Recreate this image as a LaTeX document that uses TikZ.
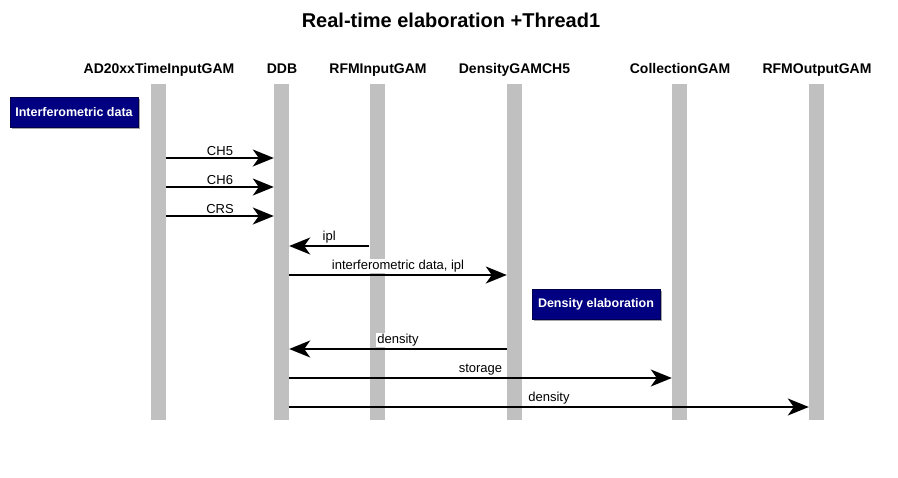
\documentclass[tikz,border=0pt]{standalone}
\usepackage{fontspec}
\setmainfont{Liberation Sans}
\usetikzlibrary{arrows.meta,shadows}
\definecolor{bargray}{HTML}{C0C0C0}
\definecolor{navy}{HTML}{000080}
\tikzset{
  lifeline/.style={fill=bargray, draw=none, minimum width=15pt, minimum height=336pt, inner sep=0pt},
  header/.style={font=\fontsize{14}{16}\selectfont\bfseries, inner sep=0pt, anchor=base},
  msg/.style={line width=1.6pt, -{Stealth[length=21pt,width=17pt,inset=6pt]}},
  msglabel/.style={midway, above=0.8pt, fill=white, inner sep=1.2pt, font=\fontsize{13}{15}\selectfont},
  notebox/.style={fill=navy, draw=navy!60!black, text=white, font=\fontsize{12.5}{14}\selectfont\bfseries,
    minimum width=128pt, minimum height=30pt, inner sep=0pt,
    drop shadow={shadow xshift=2pt, shadow yshift=-2pt, fill=gray!70, opacity=1}}
}
\begin{document}
\begin{tikzpicture}[x=1pt,y=-1pt]
\useasboundingbox (0,0) rectangle (898,478);
% title
\node[font=\fontsize{20}{24}\selectfont\bfseries, anchor=base] (title) at (451,28) {Real-time elaboration +Thread1};
% headers
\node[header] (hA) at (159,73.5) {AD20xxTimeInputGAM};
\node[header] (hB) at (282,73.5) {DDB};
\node[header] (hC) at (378,73.5) {RFMInputGAM};
\node[header] (hD) at (514.5,73.5) {DensityGAMCH5};
\node[header] (hE) at (680,73.5) {CollectionGAM};
\node[header] (hF) at (817,73.5) {RFMOutputGAM};
% lifelines
\node[lifeline] (ad)  at (158.5,252) {};
\node[lifeline] (ddb) at (281.5,252) {};
\node[lifeline] (rin) at (377,252) {};
\node[lifeline] (den) at (514.5,252) {};
\node[lifeline] (col) at (679.5,252) {};
\node[lifeline] (rout) at (816.5,252) {};
% notes
\node[notebox] (n1) at (74,112) {Interferometric data};
\node[notebox] (n2) at (596,304) {Density elaboration};
% rows
\coordinate (r1) at (0,158);
\coordinate (r2) at (0,187);
\coordinate (r3) at (0,216);
\coordinate (r4) at (0,246);
\coordinate (r5) at (0,275);
\coordinate (r6) at (0,349);
\coordinate (r7) at (0,378);
\coordinate (r8) at (0,407);
% messages
\draw[msg] (ad.east |- r1) -- node[msglabel] {CH5} (ddb.west |- r1);
\draw[msg] (ad.east |- r2) -- node[msglabel] {CH6} (ddb.west |- r2);
\draw[msg] (ad.east |- r3) -- node[msglabel] {CRS} (ddb.west |- r3);
\draw[msg] (rin.west |- r4) -- node[msglabel] {ipl} (ddb.east |- r4);
\draw[msg] (ddb.east |- r5) -- node[msglabel] {interferometric data, ipl} (den.west |- r5);
\draw[msg] (den.west |- r6) -- node[msglabel] {density} (ddb.east |- r6);
\draw[msg] (ddb.east |- r7) -- node[msglabel] {storage} (col.west |- r7);
\draw[msg] (ddb.east |- r8) -- node[msglabel] {density} (rout.west |- r8);
\end{tikzpicture}
\end{document}
